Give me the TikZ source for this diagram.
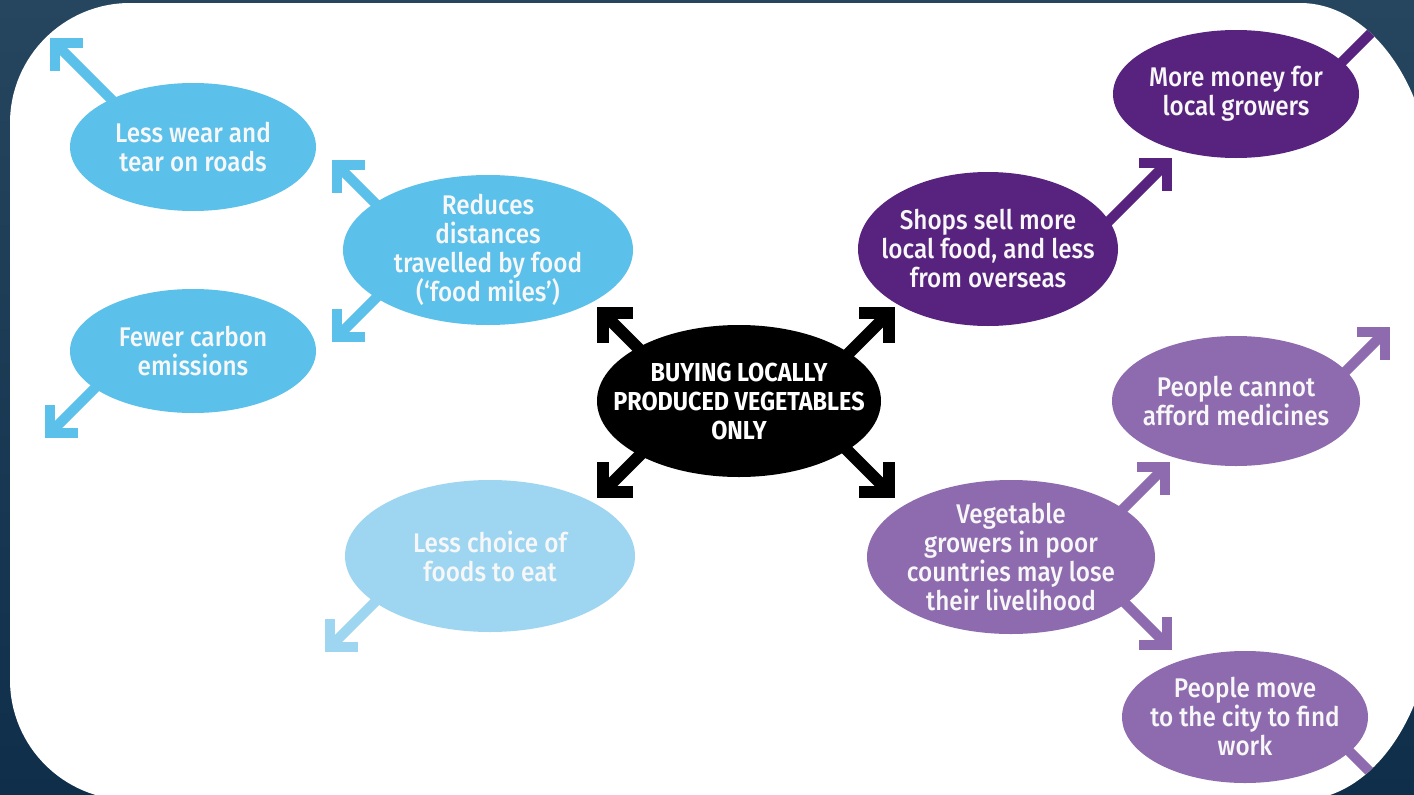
\documentclass[tikz,border=0pt]{standalone}
\usepackage{fontspec}
\newfontfamily\medfont{Fira Sans Medium}[FakeStretch=0.9]
\newfontfamily\ctrfont{Fira Sans}[FakeStretch=0.9]
\usetikzlibrary{calc,shapes.geometric}
\pgfdeclarelayer{back}
\pgfdeclarelayer{arrowlayer}
\pgfsetlayers{back,arrowlayer,main}
\definecolor{lblue}{HTML}{5BC0EA}
\definecolor{pblue}{HTML}{9ED6F2}
\definecolor{dpurp}{HTML}{57237F}
\definecolor{mpurp}{HTML}{8E6BAF}
\definecolor{navyA}{HTML}{26465F}
\definecolor{navyB}{HTML}{0F2E4A}
\definecolor{offwhite}{HTML}{F7F7F7}
\newcommand\chevarrow[6]{%
  \draw[arr,#1] (#2.center) -- (#3) -- (#4);
  \draw[arr,#1] ($(#4)+(#5,0)$) -- (#4) -- ($(#4)+(0,#6)$);
}
\begin{document}
\begin{tikzpicture}[x=1pt,y=-1pt,
  bubble/.style={ellipse, inner sep=0pt, draw=none},
  txt/.style={text=offwhite, align=center, inner sep=0pt,
              font=\medfont\fontsize{27}{29}\selectfont},
  ctxt/.style={text=white, align=center, inner sep=0pt,
              font=\ctrfont\bfseries\fontsize{26}{29}\selectfont},
  arr/.style={line width=10pt, line cap=butt, line join=miter}]
\useasboundingbox (0,0) rectangle (1414,795);

% background
\begin{pgfonlayer}{back}
\shade[top color=navyA, bottom color=navyB] (0,0) rectangle (1414,795);
\fill[white] (10,123) .. controls (10,56.8) and (63.8,3) .. (130,3)
  -- (1300,3) .. controls (1374,3) and (1434,92.6) .. (1434,203)
  -- (1434,600) .. controls (1434,710.4) and (1374,800) .. (1300,800)
  -- (130,800) .. controls (63.8,800) and (10,746.2) .. (10,680) -- cycle;
\end{pgfonlayer}

% nodes
\node[bubble, fill=lblue, minimum width=246, minimum height=128,
  label={[txt]center:{Less wear and\\tear on roads}}] (n1) at (193,147) {};
\node[bubble, fill=lblue, minimum width=290, minimum height=150,
  label={[txt]center:{Reduces\\distances\\travelled by food\\(‘food miles’)}}] (n2) at (488,250) {};
\node[bubble, fill=lblue, minimum width=246, minimum height=124,
  label={[txt]center:{Fewer carbon\\emissions}}] (n3) at (193,351) {};
\node[bubble, fill=pblue, minimum width=290, minimum height=152,
  label={[txt]center:{Less choice of\\foods to eat}}] (n4) at (490,556) {};
\node[bubble, fill=black, minimum width=284, minimum height=152,
  label={[ctxt]center:{BUYING LOCALLY\\PRODUCED VEGETABLES\\ONLY}}] (n5) at (739,401) {};
\node[bubble, fill=dpurp, minimum width=260, minimum height=154,
  label={[txt]center:{Shops sell more\\local food, and less\\from overseas}}] (n6) at (988,249) {};
\node[bubble, fill=dpurp, minimum width=246, minimum height=128,
  label={[txt]center:{More money for\\local growers}}] (n7) at (1236,94) {};
\node[bubble, fill=mpurp, minimum width=248, minimum height=130,
  label={[txt]center:{People cannot\\afford medicines}}] (n8) at (1236,401) {};
\node[bubble, fill=mpurp, minimum width=288, minimum height=154,
  label={[txt]center:{Vegetable\\growers in poor\\countries may lose\\their livelihood}}] (n9) at (1011,557) {};
\node[bubble, fill=mpurp, minimum width=246, minimum height=132,
  label={[txt]center:{People move\\to the city to find\\work}}] (n10) at (1245,717) {};

% arrow coordinates
\coordinate (Ta1) at (603,313);  \coordinate (Ea1) at (663,373);
\coordinate (Ta2) at (889,313);  \coordinate (Ea2) at (829,373);
\coordinate (Ta3) at (603,492);  \coordinate (Ea3) at (663,432);
\coordinate (Ta4) at (889,492);  \coordinate (Ea4) at (829,432);
\coordinate (Tb1) at (55,43);    \coordinate (Eb1) at (125,113);
\coordinate (Tb2) at (337,165);  \coordinate (Eb2) at (397,225);
\coordinate (Tb3) at (337,337);  \coordinate (Eb3) at (397,277);
\coordinate (Tb4) at (50,433);   \coordinate (Eb4) at (120,363);
\coordinate (Tb5) at (330,647);  \coordinate (Eb5) at (410,567);
\coordinate (Tp1) at (1167,163); \coordinate (Ep1) at (1097,233);
\coordinate (Tp2) at (1404,0);   \coordinate (Ep2) at (1304,100);
\coordinate (Tm1) at (1165,467); \coordinate (Em1) at (1095,537);
\coordinate (Tm2) at (1167,645); \coordinate (Em2) at (1097,575);
\coordinate (Tm3) at (1385,332); \coordinate (Em3) at (1315,402);
\coordinate (Tm4) at (1410,812); \coordinate (Em4) at (1310,712);

\begin{pgfonlayer}{arrowlayer}
\begin{scope}
\clip (10,123) .. controls (10,56.8) and (63.8,3) .. (130,3)
  -- (1300,3) .. controls (1374,3) and (1434,92.6) .. (1434,203)
  -- (1434,600) .. controls (1434,710.4) and (1374,800) .. (1300,800)
  -- (130,800) .. controls (63.8,800) and (10,746.2) .. (10,680) -- cycle;
\chevarrow{black,line width=12pt}{n5}{Ea1}{Ta1}{30}{30}
\chevarrow{black,line width=12pt}{n5}{Ea2}{Ta2}{-30}{30}
\chevarrow{black,line width=12pt}{n5}{Ea3}{Ta3}{30}{-30}
\chevarrow{black,line width=12pt}{n5}{Ea4}{Ta4}{-30}{-30}
\chevarrow{lblue}{n1}{Eb1}{Tb1}{28}{28}
\chevarrow{lblue}{n2}{Eb2}{Tb2}{28}{28}
\chevarrow{lblue}{n2}{Eb3}{Tb3}{28}{-28}
\chevarrow{lblue}{n3}{Eb4}{Tb4}{28}{-28}
\chevarrow{pblue}{n4}{Eb5}{Tb5}{28}{-28}
\chevarrow{dpurp}{n6}{Ep1}{Tp1}{-28}{28}
\chevarrow{dpurp}{n7}{Ep2}{Tp2}{-28}{28}
\chevarrow{mpurp}{n9}{Em1}{Tm1}{-28}{28}
\chevarrow{mpurp}{n9}{Em2}{Tm2}{-28}{-28}
\chevarrow{mpurp}{n8}{Em3}{Tm3}{-28}{28}
\chevarrow{mpurp}{n10}{Em4}{Tm4}{-28}{-28}
\end{scope}
\end{pgfonlayer}
\end{tikzpicture}
\end{document}
